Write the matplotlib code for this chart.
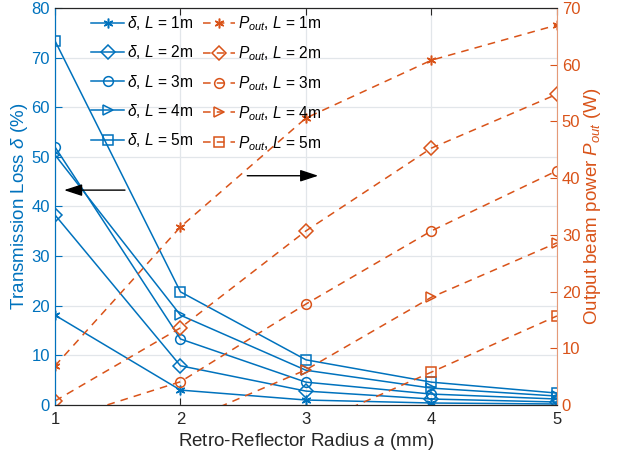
import numpy as np
import matplotlib
matplotlib.use("Agg")
import matplotlib.pyplot as plt

plt.rcParams['font.family'] = ['Liberation Sans', 'DejaVu Sans']
plt.rcParams['mathtext.fontset'] = 'custom'
plt.rcParams['mathtext.rm'] = 'Liberation Sans'
plt.rcParams['mathtext.it'] = 'Liberation Sans:italic'

# радиус ретрорефлектора, мм
radius = [1, 2, 3, 4, 5]
lengths = [1, 2, 3, 4, 5]

# потери передачи delta, %
loss = [
    [18.1, 3.0, 1.0, 0.4, 0.2],
    [38.3, 7.9, 2.8, 1.2, 0.6],
    [52.0, 13.3, 4.6, 2.2, 1.2],
    [50.4, 18.1, 7.0, 3.4, 1.8],
    [73.4, 22.8, 9.1, 4.6, 2.4],
]

# выходная мощность P_out, Вт (отрицательные уходят под ось)
power = [
    [6.9, 31.4, 50.6, 60.8, 67.0],
    [0.7, 13.6, 30.7, 45.3, 54.8],
    [-2.9, 4.1, 17.8, 30.7, 41.3],
    [-16.0, -3.3, 6.2, 19.0, 28.6],
    [-28.0, -14.0, -4.0, 5.8, 15.7],
]

markers = [(6, 2, 0), 'D', 'o', '>', 's']
blue = '#0072BD'
orange = '#D95319'

fig = plt.figure(figsize=(6.17, 4.63), dpi=100)
ax = fig.add_axes([0.0891, 0.1253, 0.8136, 0.8574])
ax2 = ax.twinx()

handles = []
for L, y, m in zip(lengths, loss, markers):
    h, = ax.plot(radius, y, color=blue, lw=1.1, marker=m, ms=7, mfc='none',
                 mew=1.1, label=r'$\delta$, $L$ = %dm' % L)
    handles.append(h)
for L, y, m in zip(lengths, power, markers):
    h, = ax2.plot(radius, y, color=orange, lw=1.1, ls=(0, (5, 4)), marker=m, ms=7,
                  mfc='none', mew=1.1, label=r'$P_{out}$, $L$ = %dm' % L)
    handles.append(h)

ax.set_xlim(1, 5)
ax.set_ylim(0, 80)
ax2.set_ylim(0, 70)
ax.set_xticks(radius)
ax.set_yticks(np.arange(0, 81, 10))
ax2.set_yticks(np.arange(0, 71, 10))

ax.grid(True, color='#e2e6ea', lw=0.9)
ax.set_axisbelow(True)

ax.tick_params(axis='x', direction='in', top=True, length=5, labelsize=12, colors='#262626', pad=5)
ax.tick_params(axis='y', direction='in', length=5, labelsize=12, colors=blue)
ax2.tick_params(axis='y', direction='in', length=5, labelsize=12, colors=orange)

ax.spines['left'].set_color(blue)
ax2.spines['left'].set_color(blue)
ax2.spines['right'].set_color('#e59a78')
ax.spines['right'].set_visible(False)
for a in (ax, ax2):
    a.spines['top'].set_color('#262626')
    a.spines['bottom'].set_color('#262626')

ax.set_xlabel('Retro-Reflector Radius $a$ (mm)', fontsize=13.5, color='#262626', labelpad=3)
ax.set_ylabel(r'Transmission Loss $\delta$ (%)', fontsize=13.5, color=blue, labelpad=1)
ax2.set_ylabel(r'Output beam power $P_{out}$ (W)', fontsize=13.5, color=orange, labelpad=1)

# стрелки, указывающие на соответствующую ось
arrow_left = ((1.58, 43.3), (1.05, 43.3))
arrow_right = ((2.51, 46.2), (3.12, 46.2))
for start, end in (arrow_left, arrow_right):
    ax2.annotate('', xy=(end[0], end[1] * 70 / 80), xytext=(start[0], start[1] * 70 / 80),
                 arrowprops=dict(arrowstyle='-|>,head_length=1.1,head_width=0.36',
                                 color='black', lw=1.0))

ax2.legend(handles=handles, ncol=2, frameon=False, loc='upper left',
           bbox_to_anchor=(0.06, 1.0), fontsize=11.2, handlelength=2.1,
           handletextpad=0.2, columnspacing=0.6, labelspacing=0.72, borderaxespad=0)

fig.savefig('out.png', dpi=100)
